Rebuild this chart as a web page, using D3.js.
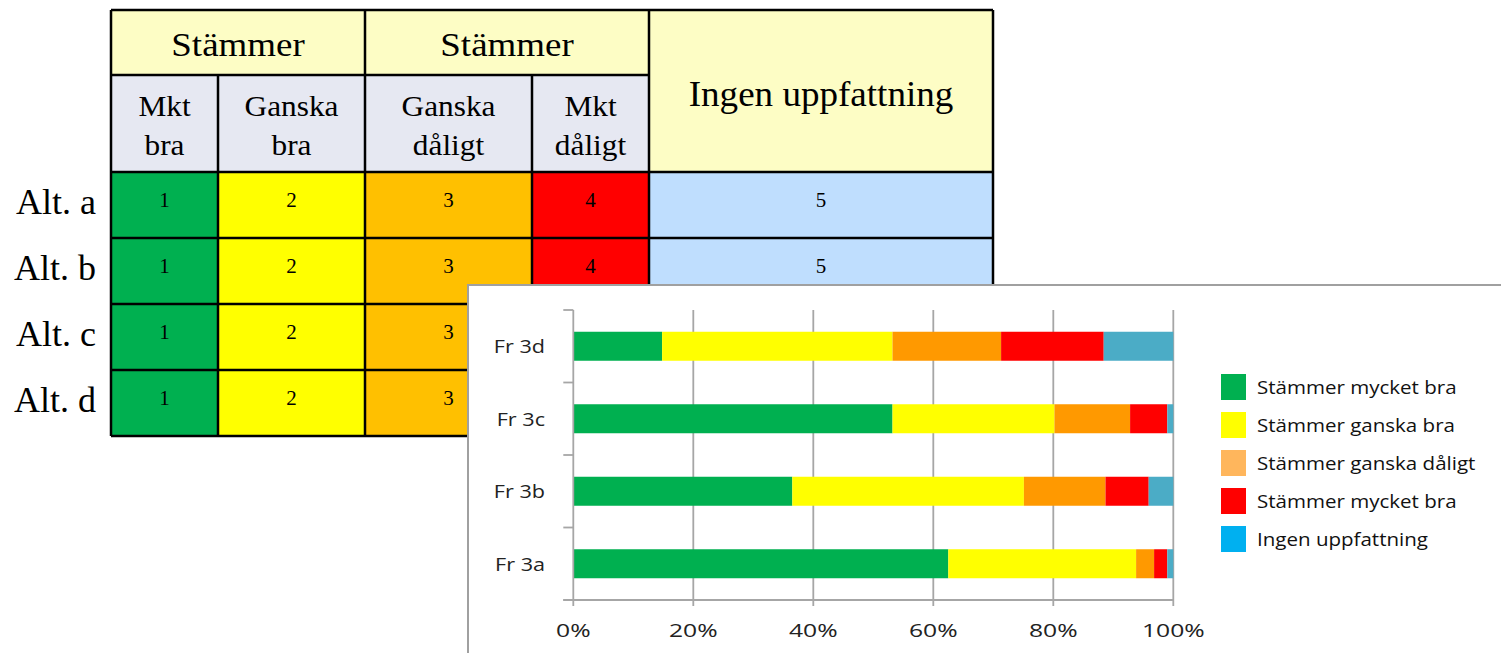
<!DOCTYPE html>
<html>
<head>
<meta charset="utf-8">
<script src="https://cdn.jsdelivr.net/npm/d3@7"></script>
<style>
  html, body { margin: 0; padding: 0; background: #fff; }
  svg { display: block; }
</style>
</head>
<body>
<div id="graphContainer"></div>
<script>
// ---- data ----
const tableRows = ['Alt. a', 'Alt. b', 'Alt. c', 'Alt. d'];
const groupHeaders = ['Stämmer', 'Stämmer', 'Ingen uppfattning'];
const subHeaders = [['Mkt', 'bra'], ['Ganska', 'bra'], ['Ganska', 'dåligt'], ['Mkt', 'dåligt']];
const cellCodes = [1, 2, 3, 4, 5];

const categories = ['Fr 3d', 'Fr 3c', 'Fr 3b', 'Fr 3a'];
const seriesNames = ['Stämmer mycket bra', 'Stämmer ganska bra', 'Stämmer ganska dåligt', 'Stämmer mycket bra', 'Ingen uppfattning'];
const mycketBra    = [14.8, 53.2, 36.5, 62.5];
const ganskaBra    = [38.4, 27.0, 38.6, 31.3];
const ganskaDaligt = [18.1, 12.6, 13.6, 3.0];
const mycketDaligt = [17.1, 6.2, 7.2, 2.2];
const ingen        = [11.6, 1.0, 4.1, 1.0];
const xTicks = [0, 20, 40, 60, 80, 100];

// ---- styles ----
const cellColors = ['#00b050', '#ffff00', '#ffc000', '#ff0000', '#bfdefe'];
const barColors = ['#00b050', '#ffff00', '#ff9900', '#ff0000', '#4bacc6'];
const legendColors = ['#00b050', '#ffff00', '#ffb65c', '#ff0000', '#00b0f0'];
const serif = '"Liberation Serif", "Times New Roman", serif';
const sans = '"Open Sans", "Noto Sans", sans-serif';

const W = 1501, H = 653;
const svg = d3.select('#graphContainer').append('svg')
  .attr('width', W).attr('height', H);

// stretched text helper (the source image is widened horizontally)
function label(g, x, y, str, opts) {
  return g.append('text')
    .attr('transform', `translate(${x},${y}) scale(${opts.sx || 1},1)`)
    .attr('text-anchor', opts.anchor || 'middle')
    .style('font-family', opts.font)
    .style('font-size', opts.size + 'px')
    .style('fill', opts.fill || '#000')
    .text(str);
}

// ---- table ----
const colEdges = [111, 218, 365, 532, 649, 993];
const headTop = 10, headMid = 75, headBottom = 172;
const table = svg.append('g').attr('class', 'table');

const rowScale = d3.scaleBand().domain(tableRows).range([headBottom, 436]);

// data cells
tableRows.forEach(r => {
  cellCodes.forEach((c, k) => {
    table.append('rect')
      .attr('x', colEdges[k]).attr('y', rowScale(r))
      .attr('width', colEdges[k + 1] - colEdges[k]).attr('height', rowScale.bandwidth())
      .attr('fill', cellColors[k]);
    label(table, (colEdges[k] + colEdges[k + 1]) / 2, rowScale(r) + 35, c,
      {font: serif, size: 21});
  });
  label(table, 96, rowScale(r) + 42, r, {font: serif, size: 36, anchor: 'end'});
});

// header backgrounds
table.append('rect').attr('x', colEdges[0]).attr('y', headTop)
  .attr('width', colEdges[4] - colEdges[0]).attr('height', headMid - headTop).attr('fill', '#fdfdc5');
table.append('rect').attr('x', colEdges[0]).attr('y', headMid)
  .attr('width', colEdges[4] - colEdges[0]).attr('height', headBottom - headMid).attr('fill', '#e6e8f2');
table.append('rect').attr('x', colEdges[4]).attr('y', headTop)
  .attr('width', colEdges[5] - colEdges[4]).attr('height', headBottom - headTop).attr('fill', '#fdfdc5');

label(table, (colEdges[0] + colEdges[2]) / 2, 56, groupHeaders[0], {font: serif, size: 33, sx: 1.12});
label(table, (colEdges[2] + colEdges[4]) / 2, 56, groupHeaders[1], {font: serif, size: 33, sx: 1.12});
label(table, (colEdges[4] + colEdges[5]) / 2, 106, groupHeaders[2], {font: serif, size: 36, sx: 1.03});
subHeaders.forEach((lines, k) => {
  lines.forEach((t, j) => {
    label(table, (colEdges[k] + colEdges[k + 1]) / 2, 116 + j * 39, t, {font: serif, size: 29, sx: 1.08});
  });
});

// grid lines
const lineStyle = s => s.attr('stroke', '#000').attr('stroke-width', 2.5);
[headTop, headMid, headBottom, ...tableRows.map(r => rowScale(r) + rowScale.bandwidth())].forEach((y, i) => {
  const x1 = colEdges[0];
  const x2 = (i === 1) ? colEdges[4] : colEdges[5];
  table.append('line').attr('x1', x1).attr('x2', x2).attr('y1', y).attr('y2', y).call(lineStyle);
});
colEdges.forEach((x, k) => {
  const y1 = (k === 1 || k === 3) ? headMid : headTop;
  table.append('line').attr('x1', x).attr('x2', x).attr('y1', y1).attr('y2', 436).call(lineStyle);
});

// ---- chart panel ----
const panel = svg.append('g').attr('class', 'panel');
panel.append('rect')
  .attr('x', 468).attr('y', 285).attr('width', W).attr('height', H)
  .attr('fill', '#fff').attr('stroke', '#a0a0a0').attr('stroke-width', 2);

const plot = {left: 573.3, right: 1173.3, top: 310, bottom: 600};
const xScale = d3.scaleLinear().domain([0, 100]).range([plot.left, plot.right]);
const yScale = d3.scaleBand().domain(categories).range([plot.top, plot.bottom])
  .paddingInner(0.6).paddingOuter(0.3);

const gridColor = '#a6a6a6';
// vertical gridlines (with ticks below the axis)
panel.append('g').selectAll('line').data(xTicks.slice(1)).enter().append('line')
  .attr('x1', d => xScale(d)).attr('x2', d => xScale(d))
  .attr('y1', plot.top).attr('y2', plot.bottom + 6)
  .attr('stroke', gridColor).attr('stroke-width', 1.8);

// stacked bars
const seriesValues = [mycketBra, ganskaBra, ganskaDaligt, mycketDaligt, ingen];
const rows = categories.map((c, i) => {
  const o = {cat: c};
  seriesValues.forEach((vals, k) => { o['s' + k] = vals[i]; });
  return o;
});
const stack = d3.stack().keys(seriesValues.map((v, k) => 's' + k));
const layers = stack(rows);

panel.append('g').selectAll('g').data(layers).enter().append('g')
  .attr('fill', (d, k) => barColors[k])
  .selectAll('rect').data(d => d).enter().append('rect')
  .attr('x', d => xScale(d[0]))
  .attr('width', d => xScale(d[1]) - xScale(d[0]))
  .attr('y', d => yScale(d.data.cat))
  .attr('height', yScale.bandwidth());

// y axis
const yAxisG = panel.append('g');
yAxisG.append('line').attr('x1', plot.left).attr('x2', plot.left)
  .attr('y1', plot.top).attr('y2', plot.bottom + 6)
  .attr('stroke', gridColor).attr('stroke-width', 1.8);
const step = yScale.step();
d3.range(categories.length + 1).forEach(i => {
  const y = plot.top + i * step;
  yAxisG.append('line').attr('x1', plot.left - 10).attr('x2', plot.left)
    .attr('y1', y).attr('y2', y).attr('stroke', gridColor).attr('stroke-width', 1.8);
});
categories.forEach(c => {
  label(yAxisG, 545, yScale(c) + yScale.bandwidth() / 2 + 7, c,
    {font: sans, size: 18, anchor: 'end', fill: '#222', sx: 1.2});
});

// x axis
const xAxisG = panel.append('g');
xAxisG.append('line').attr('x1', plot.left - 10).attr('x2', plot.right)
  .attr('y1', plot.bottom).attr('y2', plot.bottom)
  .attr('stroke', gridColor).attr('stroke-width', 1.8);
xTicks.forEach(t => {
  label(xAxisG, xScale(t), 637, t + '%', {font: sans, size: 19, fill: '#222', sx: 1.3});
});

// legend
const legend = panel.append('g');
seriesNames.forEach((name, k) => {
  const y = 374 + k * 38;
  legend.append('rect').attr('x', 1221).attr('y', y).attr('width', 25).attr('height', 26)
    .attr('fill', legendColors[k]);
  label(legend, 1257, y + 20, name, {font: sans, size: 18, anchor: 'start', fill: '#111', sx: 1.14});
});
</script>
</body>
</html>
